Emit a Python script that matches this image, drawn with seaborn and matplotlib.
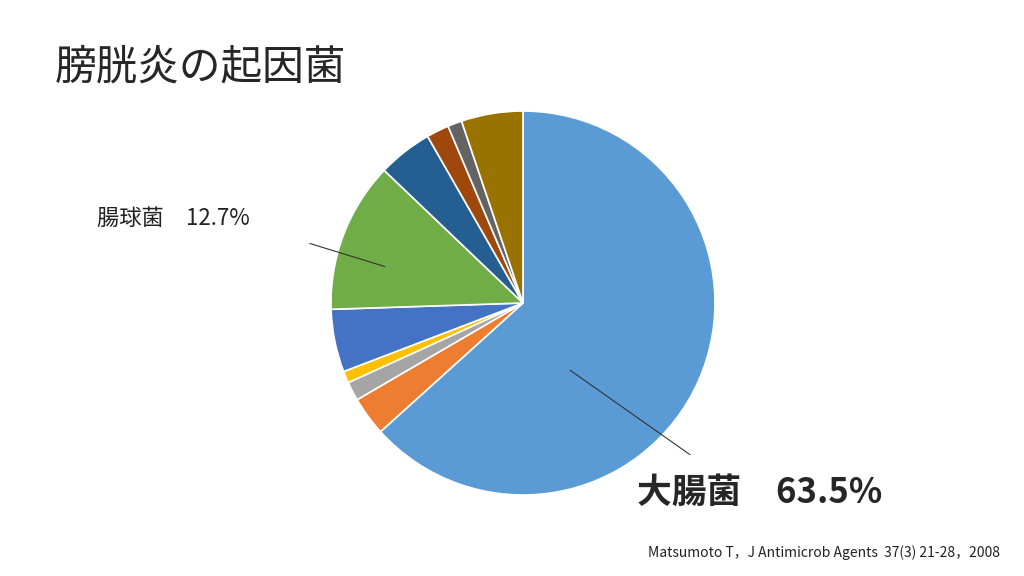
import matplotlib
matplotlib.use("Agg")
import matplotlib.pyplot as plt
import seaborn as sns

sns.set_theme(style="white")
plt.rcParams['font.family'] = ['Noto Sans CJK JP', 'DejaVu Sans']

# share of each causative organism, clockwise from 12 o'clock
shares = [63.5, 3.3, 1.6, 1.0, 5.3, 12.7, 4.6, 1.9, 1.2, 5.2]
colors = ['#5B9BD5', '#ED7D31', '#A5A5A5', '#FFC000', '#4472C4',
          '#70AD47', '#255E91', '#9E480E', '#636363', '#997300']

fig = plt.figure(figsize=(10.24, 5.76), dpi=100)
fig.patch.set_facecolor('white')

cx, cy, r = 523, 303, 192
ax = fig.add_axes([(cx - r) / 1024, (576 - cy - r) / 576, 2 * r / 1024, 2 * r / 576])
ax.pie(shares, colors=colors, startangle=90, counterclock=False,
       wedgeprops=dict(edgecolor='white', linewidth=1.2))
ax.set_xlim(-1, 1)
ax.set_ylim(-1, 1)
ax.set_aspect('equal')
ax.axis('off')

ax.plot([-0.72, -1.11], [0.19, 0.31], color='#333333', lw=0.8, clip_on=False)
ax.plot([0.245, 0.87], [-0.35, -0.79], color='#333333', lw=0.8, clip_on=False)

fig.text(55 / 1024, 1 - 68 / 576, '膀胱炎の起因菌', fontsize=30, va='center', ha='left')
fig.text(97 / 1024, 1 - 218 / 576, '腸球菌　12.7%', fontsize=16, va='center', ha='left',
         color='#222222')
fig.text(637 / 1024, 1 - 492 / 576, '大腸菌　63.5%', fontsize=25, fontweight='bold',
         va='center', ha='left')
fig.text(1000 / 1024, 1 - 553 / 576, 'Matsumoto T，J Antimicrob Agents  37(3) 21-28，2008',
         fontsize=10, va='center', ha='right', color='#222222')

fig.savefig('out.png', dpi=100)
